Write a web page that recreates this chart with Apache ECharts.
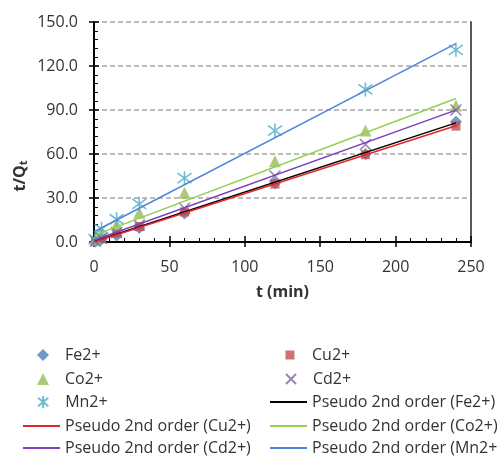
<!DOCTYPE html>
<html>
<head>
<meta charset="utf-8">
<script src="https://cdn.jsdelivr.net/npm/echarts@6/dist/echarts.min.js"></script>
<style>html,body{margin:0;padding:0;background:#fff;}#c{width:497px;height:457px;}</style>
</head>
<body>
<div id="c"></div>
<script>
// Data
const tValues = [1, 5, 15, 30, 60, 120, 180, 240];
const fe = [0.4, 1.8, 4.5, 9.5, 19.5, 40, 60, 82];
const cu = [0.4, 2.2, 6, 10.5, 20.5, 39.5, 59.5, 79];
const co = [1.5, 6.5, 12, 20, 33.5, 55, 76, 93];
const cd = [0.5, 2.5, 6.5, 11.5, 23, 45, 66.5, 90];
const mn = [2, 9, 15.5, 26, 43.5, 76, 104, 131];
const fitT = [0, 240];
const fitFe = [0.3, 81.2];
const fitCu = [0, 79.3];
const fitCo = [4.5, 97.8];
const fitCd = [1.2, 89.9];
const fitMn = [7, 135.3];
const xTicks = [0, 50, 100, 150, 200, 250];
const yTicks = [0, 30, 60, 90, 120, 150];

const pair = (xs, ys) => xs.map((x, i) => [x, ys[i]]);
const FONT = '"Open Sans", "DejaVu Sans", sans-serif';
const TXT = '#333';
const FS = 16;

function scatter(name, data, symbol, size, color, stroke) {
  const s = { name, type: 'scatter', data: pair(tValues, data), symbol, symbolSize: size, z: 3 };
  if (stroke) s.itemStyle = { color: 'rgba(0,0,0,0)', borderColor: color, borderWidth: 1.6 };
  else s.itemStyle = { color };
  return s;
}
function fit(name, data, color) {
  return { name, type: 'line', data: pair(fitT, data), symbol: 'none', z: 4,
    lineStyle: { color, width: 1.5 }, itemStyle: { color } };
}

const series = [
  scatter('Fe2+', fe, 'diamond', 12, '#4A7EBB'),
  scatter('Cu2+', cu, 'rect', 9, '#C0504D'),
  scatter('Co2+', co, 'triangle', 12, '#9BBB59'),
  scatter('Cd2+', cd, 'path://M0,0L10,10M10,0L0,10', 11, '#8064A2', true),
  scatter('Mn2+', mn, 'path://M6,0L6,14M0,2L12,12M12,2L0,12', 14, '#4BACC6', true),
  fit('Pseudo 2nd order (Fe2+)', fitFe, '#000000'),
  fit('Pseudo 2nd order (Cu2+)', fitCu, '#E3262A'),
  fit('Pseudo 2nd order (Co2+)', fitCo, '#92D050'),
  fit('Pseudo 2nd order (Cd2+)', fitCd, '#7B3FBF'),
  fit('Pseudo 2nd order (Mn2+)', fitMn, '#4F86D9')
];

const rowsTop = [347, 371, 394, 418, 440];
// [name, column text x, row, isLine, iconSize]
const legendLayout = [
  ['Fe2+', 65, 0, false, 12], ['Cu2+', 312, 0, false, 9],
  ['Co2+', 65, 1, false, 12], ['Cd2+', 312, 1, false, 10],
  ['Mn2+', 65, 2, false, 12], ['Pseudo 2nd order (Fe2+)', 312, 2, true],
  ['Pseudo 2nd order (Cu2+)', 65, 3, true], ['Pseudo 2nd order (Co2+)', 312, 3, true],
  ['Pseudo 2nd order (Cd2+)', 65, 4, true], ['Pseudo 2nd order (Mn2+)', 312, 4, true]
];
const legends = legendLayout.map(([name, textX, row, isLine, sz]) => {
  const base = { padding: 0, itemGap: 0, selectedMode: false };
  if (isLine) {
    return Object.assign(base, {
      top: rowsTop[row],
      data: [{ name, icon: 'rect' }], left: textX - 42, itemWidth: 37, itemHeight: 2,
      textStyle: { fontFamily: FONT, fontSize: FS, color: TXT, lineHeight: 16 }
    });
  }
  const centerX = textX - 22;
  return Object.assign(base, {
    top: rowsTop[row],
    data: [name], left: centerX - sz / 2, itemWidth: sz, itemHeight: sz,
    textStyle: { fontFamily: FONT, fontSize: FS, color: TXT, lineHeight: 16,
      padding: [0, 0, 0, textX - (centerX + sz / 2) - 5] }
  });
});

const chart = echarts.init(document.getElementById('c'), null, { renderer: 'canvas' });
chart.setOption({
  animation: false,
  backgroundColor: '#fff',
  grid: { left: 94, right: 26, top: 22, bottom: 215, containLabel: false },
  legend: legends,
  graphic: [{
    type: 'text', x: 20, y: 176, rotation: Math.PI / 2,
    style: {
      text: '{a|t/Q}{b|t}', align: 'center', verticalAlign: 'middle',
      rich: {
        a: { fontFamily: FONT, fontSize: FS, fontWeight: 'bold', fill: TXT },
        b: { fontFamily: FONT, fontSize: 11, fontWeight: 'bold', fill: TXT, padding: [8, 0, 0, 0] }
      }
    }
  }],
  xAxis: [{
    type: 'value', min: xTicks[0], max: xTicks[xTicks.length - 1], interval: 50,
    name: 't (min)', nameLocation: 'middle', nameGap: 42,
    nameTextStyle: { fontFamily: FONT, fontSize: FS, fontWeight: 'bold', color: TXT },
    axisLine: { show: true, onZero: false, lineStyle: { color: '#000', width: 2 } },
    axisTick: { show: true, inside: true, length: 6, lineStyle: { color: '#000', width: 1.5 } },
    minorTick: { show: true, splitNumber: 5, length: 4, lineStyle: { color: '#000', width: 1 } },
    axisLabel: { fontFamily: FONT, fontSize: FS, color: TXT, margin: 17 },
    splitLine: { show: false }
  }, {
    type: 'value', min: 0, max: 250, interval: 50, position: 'bottom',
    axisLine: { show: false }, axisLabel: { show: false }, splitLine: { show: false },
    axisTick: { show: true, inside: false, length: 5, lineStyle: { color: '#000', width: 1.5 } }
  }],
  yAxis: [{
    type: 'value', min: yTicks[0], max: yTicks[yTicks.length - 1], interval: 30,
    axisLine: { show: true, onZero: false, lineStyle: { color: '#000', width: 2 } },
    axisTick: { show: true, inside: true, length: 5, lineStyle: { color: '#000', width: 1.5 } },
    minorTick: { show: true, splitNumber: 5, length: 4, lineStyle: { color: '#000', width: 1 } },
    axisLabel: { fontFamily: FONT, fontSize: FS, color: TXT, margin: 16, formatter: v => v.toFixed(1) },
    splitLine: { show: true, lineStyle: { color: '#A6A6A6', type: [5, 3], width: 1.5 } }
  }, {
    type: 'value', min: 0, max: 150, interval: 30, position: 'right',
    axisLine: { show: true, onZero: false, lineStyle: { color: '#595959', width: 2 } },
    axisTick: { show: false }, axisLabel: { show: false }, splitLine: { show: false }
  }, {
    type: 'value', min: 0, max: 150, interval: 30, position: 'left',
    axisLine: { show: false }, axisLabel: { show: false }, splitLine: { show: false },
    axisTick: { show: true, inside: false, length: 5, lineStyle: { color: '#000', width: 1.5 } }
  }],
  series: series
});
</script>
</body>
</html>
